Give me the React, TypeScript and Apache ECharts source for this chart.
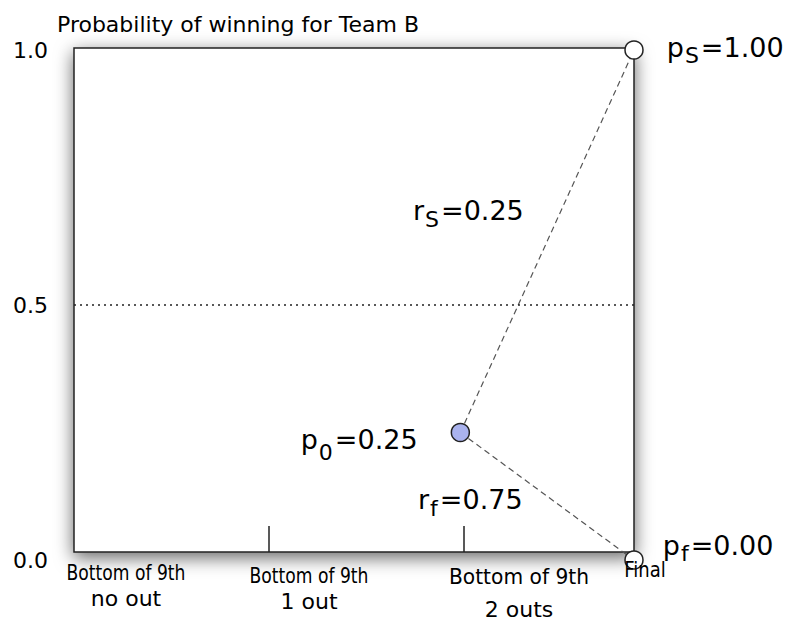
import React, { useEffect, useRef } from 'react';
import * as echarts from 'echarts';

const FONT = 'DejaVu Sans';
const TITLE = 'Probability of winning for Team B';

// Axes
const yTickValues = [0, 0.5, 1];
const stageTicks = [1, 2];
const finalX = 2.87;
const halfLine = 0.5;

// Stage labels (two lines each)
const stageLine1 = ['Bottom of 9th', 'Bottom of 9th', 'Bottom of 9th', 'Final'];
const stageLine2 = ['no out', '1 out', '2 outs', ''];

// States: success, current, failure
const stateSymbols = ['p', 'p', 'p'];
const stateSubs = ['S', '0', 'f'];
const stateValueText = ['1.00', '0.25', '0.00'];
const stateX = [2.87, 1.98, 2.87];
const stateY = [1.0, 0.25, 0.0];
const stateFill = ['#ffffff', '#aab3ee', '#ffffff'];

// Transition rates
const rateSubs = ['S', 'f'];
const rateValueText = ['0.25', '0.75'];

export default function App() {
  const ref = useRef<HTMLDivElement>(null);

  useEffect(() => {
    if (!ref.current) return;
    const chart = echarts.init(ref.current, null, { renderer: 'svg' });

    const mainStyle = { fontSize: 27, fontFamily: FONT, color: '#000', lineHeight: 27, verticalAlign: 'top' };
    const subStyle = { fontSize: 22, fontFamily: FONT, color: '#000', lineHeight: 33, verticalAlign: 'bottom', padding: [0, 2, 0, 1] };
    const subStyleLow = { ...subStyle, lineHeight: 37 };
    const rich = { m: mainStyle, s: subStyle, sl: subStyleLow };

    const labelPos = [
      { position: 'right', distance: 23, offset: [0, 0] },
      { position: 'left', distance: 33, offset: [0, 12] },
      { position: 'right', distance: 19, offset: [0, -12] },
    ];

    const scatterData = stateX.map((x, i) => ({
      value: [x, stateY[i]],
      itemStyle: { color: stateFill[i], borderColor: '#222', borderWidth: 1.5, opacity: 1 },
      label: {
        show: true,
        color: '#000',
        opacity: 1,
        ...labelPos[i],
        formatter: `{m|${stateSymbols[i]}}{${i === 1 ? 'sl' : 's'}|${stateSubs[i]}}{m|=${stateValueText[i]}}`,
        rich,
      },
    }));

    const startPt = [stateX[1], stateY[1]];

    const stageCenters = [126, 309, 519, 645];
    const stageY1 = [573, 576, 576, 569];
    const stageY2 = [598, 601, 609, 0];
    const stageScale1 = [0.78, 0.78, 0.92, 0.82];

    const graphics: any[] = [
      {
        type: 'rect',
        z: -10,
        shape: { x: 74, y: 48, width: 560, height: 504 },
        style: {
          fill: '#ffffff',
          stroke: '#222',
          lineWidth: 1.5,
          shadowBlur: 18,
          shadowColor: 'rgba(0,0,0,0.6)',
          shadowOffsetY: 5,
        },
      },
      {
        type: 'text',
        x: 57,
        y: 24,
        z: 10,
        style: { text: TITLE, fontSize: 22, fontFamily: FONT, fill: '#000', verticalAlign: 'middle' },
      },
    ];

    const ratePos = [
      [413, 197],
      [418, 486],
    ];
    rateSubs.forEach((s, i) => {
      graphics.push({
        type: 'text',
        x: ratePos[i][0],
        y: ratePos[i][1],
        z: 10,
        style: {
          text: `{m|r}{s|${s}}{m|=${rateValueText[i]}}`,
          rich: {
            m: { fontSize: 27, fontFamily: FONT, fill: '#000', lineHeight: 27, verticalAlign: 'top' },
            s: { fontSize: 22, fontFamily: FONT, fill: '#000', lineHeight: 33, verticalAlign: 'bottom', padding: [0, 2, 0, 1] },
          },
          verticalAlign: 'top',
        },
      });
    });

    stageLine1.forEach((t, i) => {
      graphics.push({
        type: 'text',
        x: stageCenters[i],
        y: stageY1[i],
        scaleX: stageScale1[i],
        z: 10,
        style: { text: t, fontSize: 22, fontFamily: FONT, fill: '#000', align: 'center', verticalAlign: 'middle' },
      });
      if (stageLine2[i]) {
        graphics.push({
          type: 'text',
          x: stageCenters[i],
          y: stageY2[i],
          z: 10,
          style: { text: stageLine2[i], fontSize: 22, fontFamily: FONT, fill: '#000', align: 'center', verticalAlign: 'middle' },
        });
      }
    });

    chart.setOption({
      animation: false,
      backgroundColor: '#ffffff',
      grid: { left: 74, top: 50, width: 560, height: 510, containLabel: false, outerBoundsMode: 'none' },
      xAxis: {
        type: 'value',
        min: 0,
        max: finalX,
        interval: 1,
        offset: -8,
        axisLine: { show: false, onZero: false },
        axisTick: {
          show: true,
          inside: true,
          length: 26,
          customValues: stageTicks,
          lineStyle: { color: '#222', width: 1.5 },
        },
        axisLabel: { show: false },
        splitLine: { show: false },
      },
      yAxis: {
        type: 'value',
        min: 0,
        max: 1,
        interval: 0.5,
        axisLine: { show: false },
        axisTick: { show: false },
        splitLine: { show: false },
        axisLabel: {
          fontSize: 22,
          fontFamily: FONT,
          color: '#000',
          margin: 26,
          padding: [12, 0, 0, 0],
          customValues: yTickValues,
          formatter: (v: number) => v.toFixed(1),
        },
      },
      graphic: graphics,
      series: [
        {
          type: 'line',
          data: [startPt, [stateX[0], stateY[0]]],
          symbol: 'none',
          lineStyle: { color: '#555', width: 1.2, type: [6, 4] },
          z: 3,
          markLine: {
            silent: true,
            symbol: 'none',
            label: { show: false },
            lineStyle: { color: '#222', width: 1.5, type: [2, 4] },
            data: [{ yAxis: halfLine }],
          },
        },
        {
          type: 'line',
          data: [startPt, [stateX[2], stateY[2]]],
          symbol: 'none',
          lineStyle: { color: '#555', width: 1.2, type: [6, 4] },
          z: 3,
        },
        {
          type: 'scatter',
          symbol: 'circle',
          symbolSize: 18,
          z: 5,
          itemStyle: { opacity: 1 },
          data: scatterData,
        },
      ],
    });

    return () => chart.dispose();
  }, []);

  return <div ref={ref} style={{ position: 'absolute', left: 0, top: 0, width: 791, height: 621 }} />;
}
